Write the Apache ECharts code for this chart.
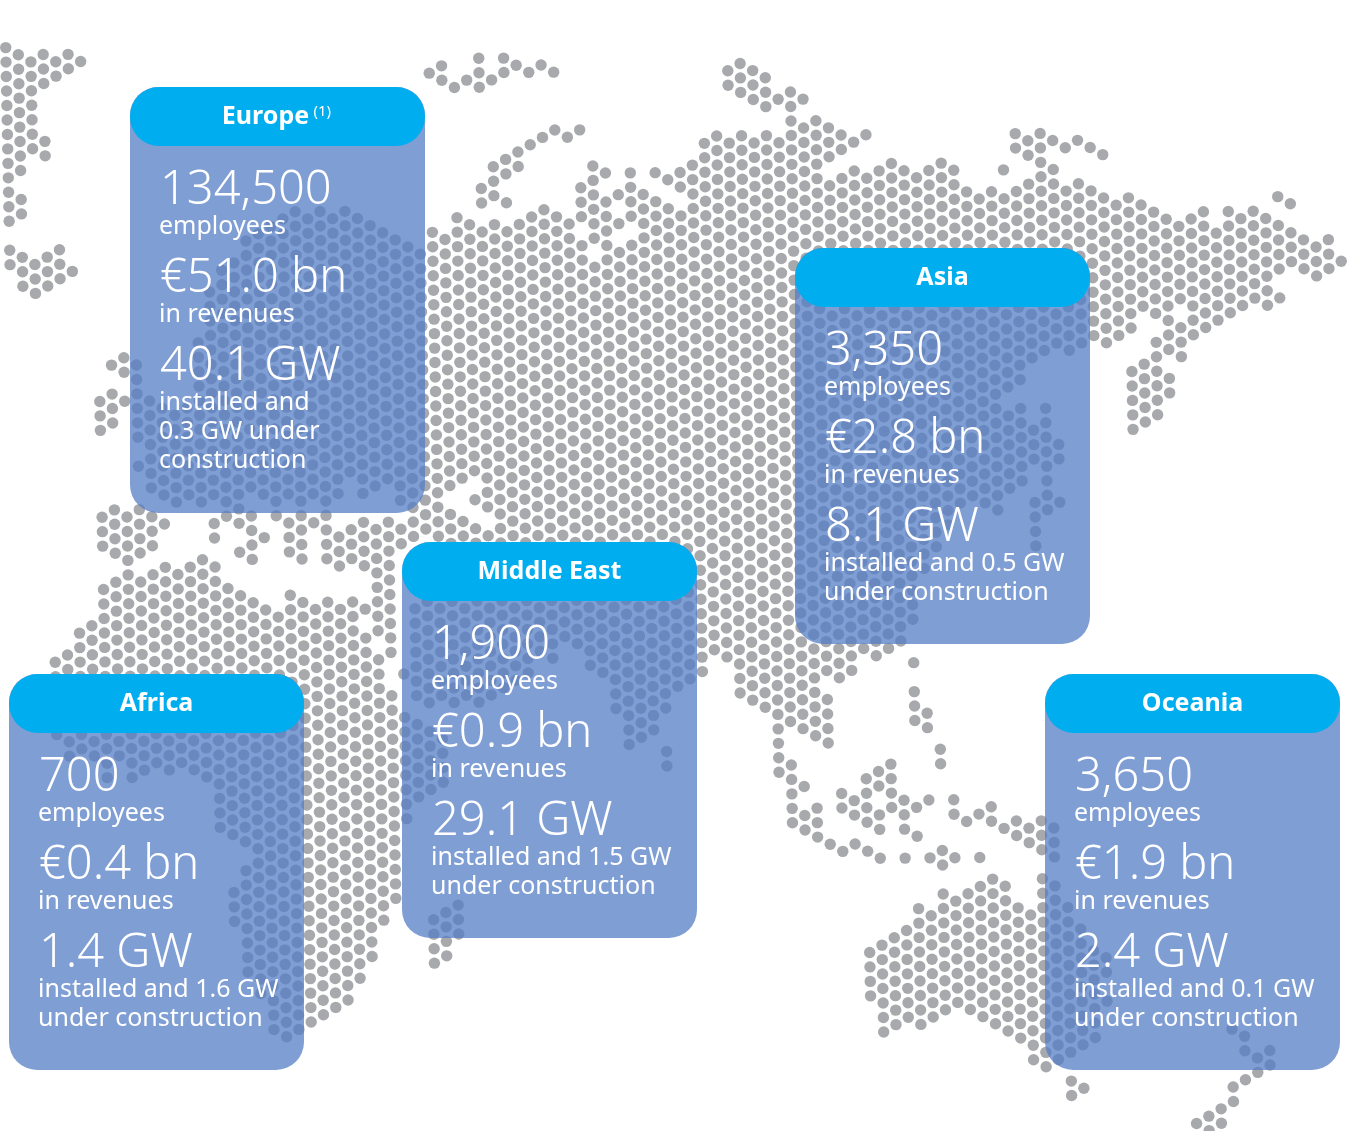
<!DOCTYPE html>
<html>
<head>
<meta charset="utf-8">
<style>html,body{margin:0;padding:0;background:#fff}#chart{width:1348px;height:1131px}</style>
<script src="https://cdn.jsdelivr.net/npm/echarts@6/dist/echarts.min.js"></script>
</head>
<body>
<div id="chart"></div>
<script>
// card contents
var regions = ['Europe', 'Asia', 'Middle East', 'Africa', 'Oceania'];
var regionNotes = ['(1)', '', '', '', ''];
var employees = ['134,500', '3,350', '1,900', '700', '3,650'];
var revenues = ['€51.0 bn', '€2.8 bn', '€0.9 bn', '€0.4 bn', '€1.9 bn'];
var capacity = ['40.1 GW', '8.1 GW', '29.1 GW', '1.4 GW', '2.4 GW'];
var capacityNotes = [
  ['installed and', '0.3 GW under', 'construction'],
  ['installed and 0.5 GW', 'under construction'],
  ['installed and 1.5 GW', 'under construction'],
  ['installed and 1.6 GW', 'under construction'],
  ['installed and 0.1 GW', 'under construction']
];

// land, each entry: dot column, first y, last y
var arcticLand = [[-1,140,230],[0,47,221],[1,54,171],[1,199,214],[2,62,149],[3,54,83],[3,142,156],[4,62,76],[5,54,68],[6,62,62],
  [0,250,264],[1,257,287],[2,265,293],[3,257,286],[4,250,279],[5,272,272]];
var atlanticIslands = [[7,402,431],[8,365,365],[8,394,423],[9,358,373],[9,401,401],
  [7,518,547],[8,511,554],[9,518,561],[10,510,553],[11,517,547],[12,524,524]];
var northIslands = [[34,73,73],[35,65,80],[36,87,87],[37,80,80],[38,58,87],[39,80,80],[40,58,72],[41,65,65],[42,72,72],[43,65,65],[44,72,72],
  [46,129,129],[45,137,137],[44,130,130],[43,137,137],[42,145,145],[41,152,166],[40,159,174],[39,166,195],[38,188,203],[40,203,203],
  [58,71,85],[59,63,92],[60,70,99],[61,77,107],[62,99,99]];
var europeLand = [[10,365,437],[10,467,467],[11,401,488],[12,408,495],[13,416,502],[14,408,495],[15,345,502],[16,292,495],[17,269,503],[18,262,509],
  [19,240,495],[20,233,495],[21,226,502],[22,218,495],[23,210,502],[24,218,495],[25,211,502],[26,218,495],[27,211,470],[28,218,495],
  [29,226,488],[30,232,480],[31,239,502],[32,247,537],[33,254,530],
  [16,524,539],[17,517,517],[18,524,524],[18,553,553],[19,517,560],[20,538,538],[21,517,517],[22,524,552],[23,517,559],[24,523,523],[25,517,559],
  [26,537,567],[27,530,559],[28,523,567],[29,530,632],[30,523,653],[31,530,544]];
var africaLand = [[3,663,736],[4,655,757],[5,633,750],[6,626,757],[7,590,778],[8,583,757],[9,576,778],[10,583,771],[11,576,764],[12,568,771],
  [13,576,764],[14,568,771],[15,560,778],[16,567,828],[17,589,835],[17,893,922],[18,596,841],[18,870,973],[19,603,1000],[20,610,1031],[21,617,1038],
  [22,595,1031],[23,602,1023],[24,610,1016],[25,602,1008],[26,609,1001],[27,602,979],[28,609,609],[28,638,957],[29,659,921],[30,696,899],
  [31,674,674],[31,717,820],[32,609,696],[32,725,798],[33,600,702],[33,725,790],
  [33,921,964],[34,913,957],[35,907,935]];
var eurasiaLand = [[34,232,700],[34,740,780],[35,240,486],[35,514,703],[36,218,478],[36,522,695],[37,225,471],[37,500,500],[37,530,702],
  [38,232,478],[38,492,507],[38,540,695],[39,224,688],[40,232,680],[41,224,670],[42,217,660],[43,210,655],[44,217,637],[45,224,643],
  [46,187,217],[46,246,665],[47,166,238],[47,267,672],[48,173,173],[48,202,708],[49,194,194],[49,223,223],[49,252,740],[50,173,216],[50,245,745],
  [51,194,735],[52,173,173],[52,202,707],[52,752,767],[53,180,180],[53,209,690],[54,172,187],[54,216,679],[55,165,671],[56,143,650],[57,136,657],
  [58,143,693],[59,136,700],[60,143,708],[61,135,772],[62,142,722],[63,92,729],[64,99,99],[64,128,736],[65,120,671],[65,700,744],
  [66,128,157],[66,185,678],[67,135,149],[67,178,671],[68,142,142],[68,171,649],[69,135,135],[69,178,656],[70,170,649],[71,163,640],[72,170,619],
  [73,177,575],[74,170,545],[75,163,525],[76,170,510],[77,191,495],[78,199,502],[79,191,509],[80,170,170],[80,198,386],[80,415,488],
  [81,133,148],[81,191,379],[81,407,480],[82,141,155],[82,184,357],[82,430,458],[82,503,546],[83,133,349],[83,408,509],
  [84,141,141],[84,169,342],[84,443,458],[84,502,502],[85,148,148],[85,191,349],[86,140,140],[86,183,342],[87,147,147],[87,191,336],
  [88,154,154],[88,198,343],[89,205,335],[90,197,328],[91,204,306],[92,212,313],[93,219,349],[94,226,298],[94,327,356],[95,219,335],[96,211,327],
  [97,233,320],[98,211,312],[99,218,305],[100,211,298],[101,218,305],[102,195,195],[102,225,269],[102,298,298],[103,203,203],[103,232,261],
  [104,239,269],[105,247,276],[106,239,268],[107,261,261]];
var japanLand = [[90,371,429],[91,364,422],[92,342,414],[93,378,393]];
var seAsiaLand = [[62,765,823],[63,787,787],[63,816,830],[64,809,837],[65,845,845],[66,794,808],[66,852,852],[67,801,816],[67,844,844],
  [68,779,823],[68,852,852],[69,772,786],[69,816,830],[69,859,859],[70,765,808],[71,801,830],[71,858,858],[72,663,663],[72,692,721],[72,808,808],[72,837,837],
  [73,714,728],[73,800,800],[73,858,858],[74,750,764],[74,851,865],[75,800,815],[75,858,858],[76,822,822],[77,814,814],[77,858,858],
  [78,807,821],[79,829,829],[80,821,836],[81,829,843],[82,821,850],[83,828,857]];
var australiaLand = [[68,953,996],[69,946,1032],[70,938,1025],[71,931,1018],[72,909,1025],[73,917,1018],[74,894,1010],[75,902,1003],[76,894,1010],
  [77,887,1017],[78,879,1024],[79,887,1032],[80,908,1039],[81,916,1060],[82,879,1068],[83,887,1060],[84,908,1053],[85,930,1045],[86,950,1038],
  [87,958,973],[87,1003,1003],[84,1081,1096],[85,1088,1088]];
var zealandLand = [[94,1123,1123],[95,1116,1129],[96,1108,1123],[97,1030,1030],[97,1087,1101],[98,1036,1051],[98,1079,1079],[99,1058,1072],[100,1051,1065]];

// the dot sheet is a slightly sheared hex lattice
var colStep = 12.44, rowStep = 7.235;

function snapLand(list, out) {
  list.forEach(function (s) {
    var c = s[0];
    for (var k = -6; k < 160; k++) {
      if ((c + k + 2000) % 2) continue;
      var Y = k * rowStep;
      var y = 62.08 - 0.0995 * c + Y;
      if (y >= s[1] - 5.5 && y <= s[2] + 5.5) {
        out.push([6 + colStep * c + 0.0198 * Y, y]);
      }
    }
  });
  return out;
}

var dots = [];
[arcticLand, atlanticIslands, northIslands, europeLand, africaLand, eurasiaLand, japanLand, seAsiaLand, australiaLand, zealandLand].forEach(function (l) {
  snapLand(l, dots);
});

// card placing
var cardX = [130, 795, 402, 9, 1045];
var cardY = [87, 248, 542, 674, 674];
var cardH = [426, 396, 396, 396, 396];
var cardW = 295;

var elements = [];
regions.forEach(function (name, i) {
  var x = cardX[i], y = cardY[i];
  elements.push({ type: 'rect', zlevel: 1, z: 100, shape: { x: x, y: y, width: cardW, height: cardH[i], r: 28 }, style: { fill: 'rgba(84,126,198,0.75)' } });
  elements.push({ type: 'rect', zlevel: 1, z: 101, shape: { x: x, y: y, width: cardW, height: 59, r: 29 }, style: { fill: '#00aeef' } });
  var tx = x + cardW / 2 - (regionNotes[i] ? 12 : 0);
  elements.push({ type: 'text', zlevel: 1, z: 102, x: tx, y: y + 30, style: { text: name, fill: '#fff', font: 'bold 25px "Noto Sans"', textAlign: 'center', textVerticalAlign: 'middle' } });
  if (regionNotes[i]) {
    elements.push({ type: 'text', zlevel: 1, z: 102, x: tx + 48, y: y + 25, style: { text: regionNotes[i], fill: '#fff', font: '15px "Noto Sans"', textAlign: 'left', textVerticalAlign: 'middle' } });
  }
  var big = [employees[i], revenues[i], capacity[i]];
  var small = [['employees'], ['in revenues'], capacityNotes[i]];
  big.forEach(function (t, j) {
    var by = y + 104 + j * 88;
    elements.push({ type: 'text', zlevel: 1, z: 102, x: x + 30, y: by, style: { text: t, fill: '#fff', font: '300 47px "Noto Sans"', textAlign: 'left', textVerticalAlign: 'middle' } });
    small[j].forEach(function (line, n) {
      elements.push({ type: 'text', zlevel: 1, z: 102, x: x + 29, y: by + 35.5 + n * 29, style: { text: line, fill: '#fff', font: '25px "Noto Sans"', textAlign: 'left', textVerticalAlign: 'middle' } });
    });
  });
});

var chart = echarts.init(document.getElementById('chart'));
chart.setOption({
  animation: false,
  backgroundColor: '#fff',
  grid: { left: 0, right: 0, top: 0, bottom: 0 },
  xAxis: { type: 'value', min: 0, max: 1348, show: false },
  yAxis: { type: 'value', min: 0, max: 1131, inverse: true, show: false },
  series: [{
    type: 'scatter',
    data: dots,
    symbolSize: 11.4,
    silent: true,
    progressive: 0,
    itemStyle: { color: '#a7a9ac', opacity: 1 }
  }],
  graphic: { elements: elements }
});
</script>
</body>
</html>
